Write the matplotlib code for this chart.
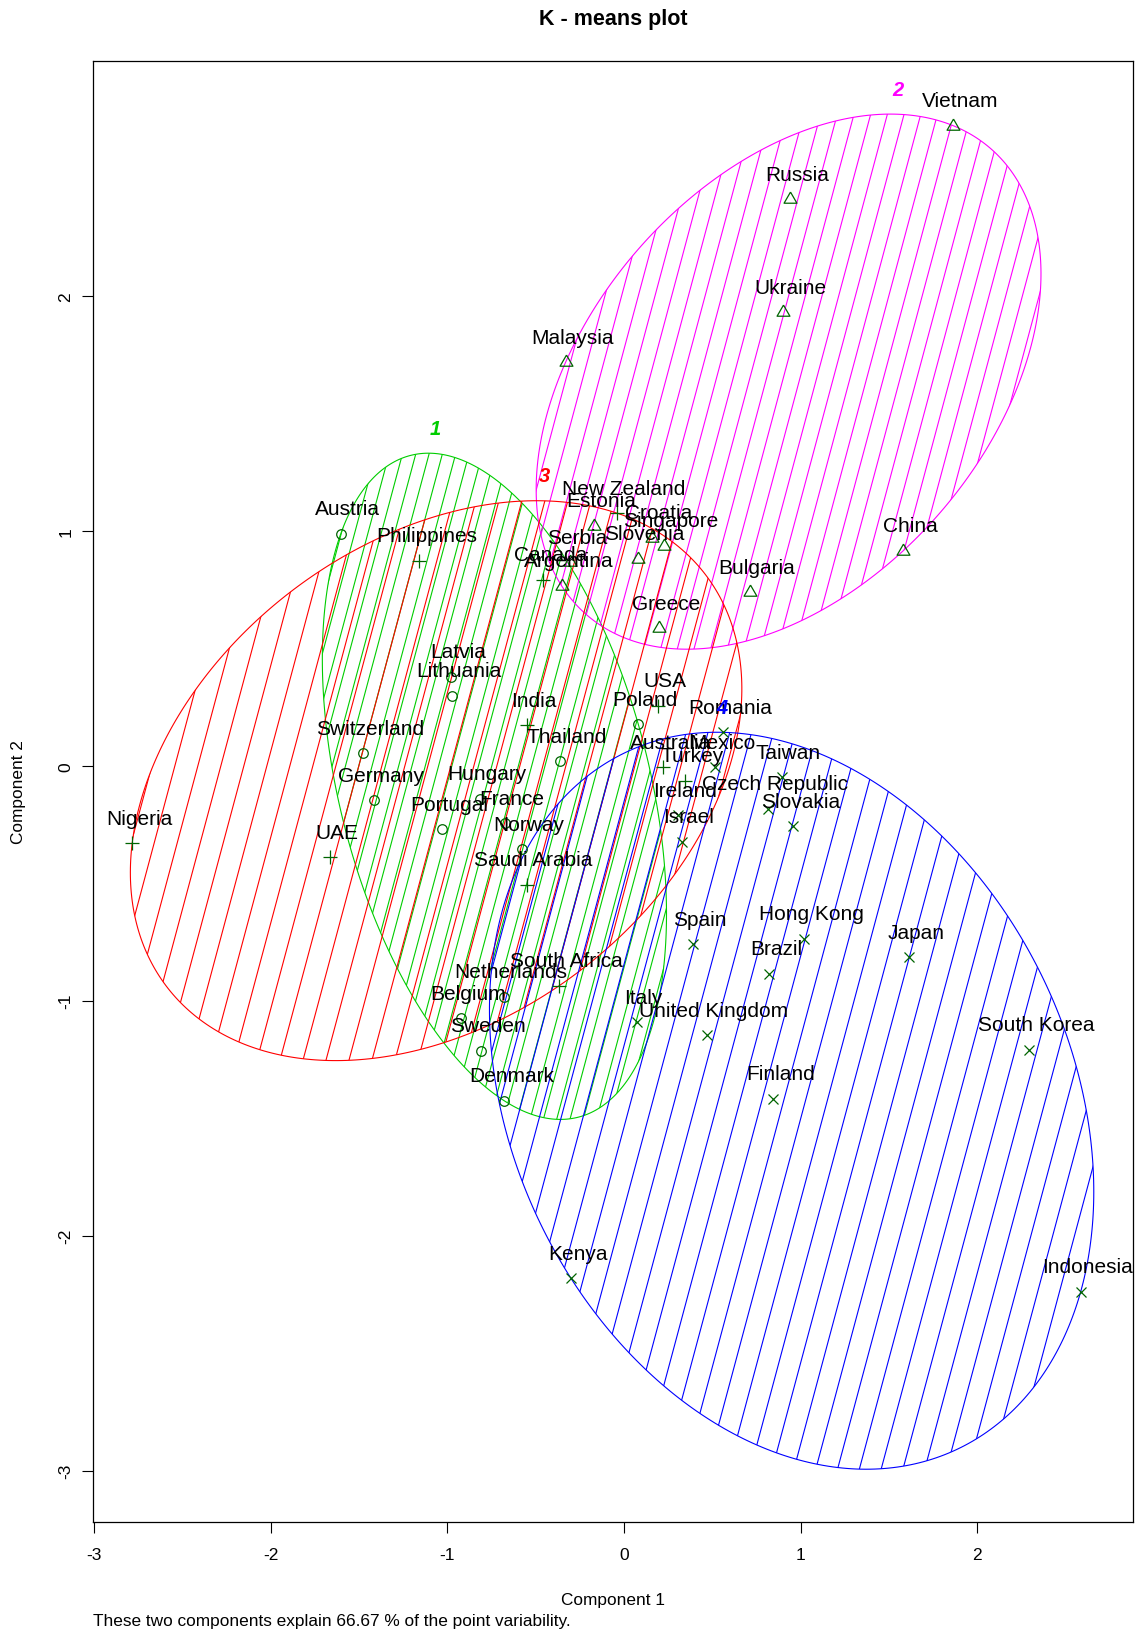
import numpy as np
import matplotlib
matplotlib.use("Agg")
import matplotlib.pyplot as plt
from matplotlib.collections import LineCollection
from matplotlib.patches import Polygon

plt.rcParams['font.family'] = ['Liberation Sans', 'DejaVu Sans']
plt.rcParams['axes.unicode_minus'] = False

# ---- cluster 1 ----
c1_names = ["Austria", "Latvia", "Lithuania", "Switzerland", "Germany", "Portugal",
            "Hungary", "France", "Norway", "Thailand", "Poland", "Netherlands",
            "Belgium", "Sweden", "Denmark"]
c1_x = [-1.603, -0.979, -0.972, -1.477, -1.417, -1.028, -0.817, -0.675, -0.579,
        -0.362, 0.081, -0.679, -0.922, -0.809, -0.677]
c1_y = [0.986, 0.379, 0.298, 0.053, -0.146, -0.271, -0.140, -0.245, -0.356,
        0.018, 0.177, -0.983, -1.075, -1.213, -1.426]

# ---- cluster 2 ----
c2_names = ["Vietnam", "Russia", "Ukraine", "Malaysia", "China", "Bulgaria", "Greece",
            "Estonia", "Croatia", "Singapore", "Slovenia", "Serbia", "Argentina"]
c2_x = [1.865, 0.939, 0.902, -0.330, 1.581, 0.713, 0.200, -0.170, 0.158, 0.226,
        0.078, -0.304, -0.353]
c2_y = [2.723, 2.411, 1.929, 1.717, 0.915, 0.738, 0.585, 1.021, 0.969, 0.936,
        0.880, 0.865, 0.766]

# ---- cluster 3 ----
c3_names = ["Philippines", "Nigeria", "UAE", "India", "Saudi Arabia", "South Africa",
            "Canada", "New Zealand", "USA", "Australia", "Turkey"]
c3_x = [-1.158, -2.783, -1.662, -0.547, -0.551, -0.366, -0.457, -0.040, 0.194,
        0.222, 0.348]
c3_y = [0.872, -0.330, -0.390, 0.173, -0.506, -0.936, 0.792, 1.075, 0.255,
        -0.007, -0.063]

# ---- cluster 4 ----
c4_names = ["Romania", "Mexico", "Taiwan", "Czech Republic", "Slovakia", "Ireland",
            "Israel", "Spain", "Hong Kong", "Brazil", "Japan", "Italy",
            "United Kingdom", "Finland", "South Korea", "Kenya", "Indonesia"]
c4_x = [0.562, 0.515, 0.892, 0.817, 0.958, 0.306, 0.327, 0.390, 1.019, 0.822,
        1.613, 0.072, 0.468, 0.845, 2.292, -0.300, 2.585]
c4_y = [0.142, -0.007, -0.049, -0.184, -0.257, -0.210, -0.323, -0.760, -0.737,
        -0.886, -0.815, -1.092, -1.146, -1.418, -1.209, -2.181, -2.238]

cluster_ids = ["1", "2", "3", "4"]
x_ticks = [-3, -2, -1, 0, 1, 2]
x_tick_labels = ["-3", "-2", "-1", "0", "1", "2"]
y_ticks = [-3, -2, -1, 0, 1, 2]
y_tick_labels = ["-3", "-2", "-1", "0", "1", "2"]

clusters = [
    (c1_names, c1_x, c1_y),
    (c2_names, c2_x, c2_y),
    (c3_names, c3_x, c3_y),
    (c4_names, c4_x, c4_y),
]

# styling
clus_colors = ["#00CD00", "#FF00FF", "#FF0000", "#0000FF"]
hatch_spacing_px = [13.3, 16.7, 23.0, 21.8]
hatch_angle = 75.0
point_color = "#006400"
tri = [(0, 1.555), (1.347, -0.778), (-1.347, -0.778), (0, 1.555)]
markers = [("o", 6.9), (tri, 10.7), ("+", 9.8), ("x", 7.4)]


def min_volume_ellipse(P, tol=1e-10, max_iter=200000):
    """Khachiyan's algorithm: smallest ellipse containing all rows of P."""
    N, d = P.shape
    Q = np.vstack([P.T, np.ones(N)])
    u = np.ones(N) / N
    for _ in range(max_iter):
        X = Q @ np.diag(u) @ Q.T
        M = np.einsum('ij,ji->i', Q.T @ np.linalg.inv(X), Q)
        j = np.argmax(M)
        step = (M[j] - d - 1.0) / ((d + 1.0) * (M[j] - 1.0))
        new_u = (1 - step) * u
        new_u[j] += step
        if np.linalg.norm(new_u - u) < tol:
            u = new_u
            break
        u = new_u
    c = P.T @ u
    A = np.linalg.inv(P.T @ np.diag(u) @ P - np.outer(c, c)) / d
    diff = P - c
    m = np.max(np.einsum('ij,jk,ik->i', diff, A, diff))
    A = A / m
    return c, A


def ellipse_boundary(c, A, n=400):
    w, V = np.linalg.eigh(A)
    t = np.linspace(0, 2 * np.pi, n)
    circ = np.vstack([np.cos(t), np.sin(t)])
    pts = (V @ np.diag(1 / np.sqrt(w)) @ circ).T + c
    return pts


W, H = 1143, 1631
fig = plt.figure(figsize=(W / 100, H / 100), dpi=100)
left, right, top, bottom = 92.6, 1133.0, 61.7, 1522.7
ax = fig.add_axes([left / W, 1 - bottom / H, (right - left) / W, (bottom - top) / H])
ax.set_xlim(-3.007, 2.881)
ax.set_ylim(-3.217, 3.0)

for (names, xs, ys), col, spacing, (mk, ms) in zip(clusters, clus_colors,
                                                    hatch_spacing_px, markers):
    P = np.column_stack([xs, ys])
    c, A = min_volume_ellipse(P)
    bnd = ellipse_boundary(c, A)
    poly = Polygon(bnd, closed=True, fill=False, edgecolor=col, lw=0.8, zorder=2)
    ax.add_patch(poly)

    # shading lines at a fixed on-screen angle, clipped to the ellipse
    pix = ax.transData.transform(bnd)
    xmin, ymin = pix.min(axis=0)
    xmax, ymax = pix.max(axis=0)
    cot = 1.0 / np.tan(np.radians(hatch_angle))
    h = ymax - ymin
    starts = np.arange(xmin - h * cot - spacing, xmax + spacing, spacing)
    inv = ax.transData.inverted()
    segs = [inv.transform(np.array([[x0, ymin - 2], [x0 + (h + 4) * cot, ymax + 2]]))
            for x0 in starts]
    lc = LineCollection(segs, colors=col, linewidths=0.8, zorder=2)
    ax.add_collection(lc)
    lc.set_clip_path(poly)

    ax.plot(xs, ys, ls="none", marker=mk, ms=ms, mfc="none", mec=point_color,
            mew=0.9, zorder=3)

    for name, x, y in zip(names, xs, ys):
        ax.annotate(name, (x, y), xytext=(7, 19.5), textcoords="offset pixels",
                    ha="center", va="baseline", fontsize=15, color="black", zorder=4)

    itop = np.argmax(bnd[:, 1])
    ax.annotate(cluster_ids[clusters.index((names, xs, ys))], tuple(bnd[itop]),
                xytext=(7, 19.5), textcoords="offset pixels", ha="center",
                va="baseline", fontsize=14.5, color=col, fontweight="bold",
                fontstyle="italic", zorder=4)

for s in ax.spines.values():
    s.set_linewidth(0.9)
    s.set_color("black")

ax.set_xticks(x_ticks, x_tick_labels)
ax.set_yticks(y_ticks, y_tick_labels)
ax.tick_params(axis="x", direction="out", length=7.9, width=0.8, pad=10.5,
               labelsize=12.5)
ax.tick_params(axis="y", direction="out", length=7.9, width=0.8, pad=6,
               labelsize=12.5, labelrotation=90)
for lab in ax.get_yticklabels():
    lab.set_va("center")

fig.text(612.8 / W, 1 - 25 / H, "K - means plot", ha="center", va="baseline",
         fontsize=15.5, fontweight="bold")
fig.text(612.8 / W, 1 - 1605 / H, "Component 1", ha="center", va="baseline",
         fontsize=12.4)
fig.text(19 / W, 1 - 792 / H, "Component 2", ha="center", va="center",
         rotation=90, fontsize=12.4)
fig.text(92.6 / W, 1 - 1626 / H,
         "These two components explain 66.67 % of the point variability.",
         ha="left", va="baseline", fontsize=12.4)

fig.savefig("out.png", dpi=100)
